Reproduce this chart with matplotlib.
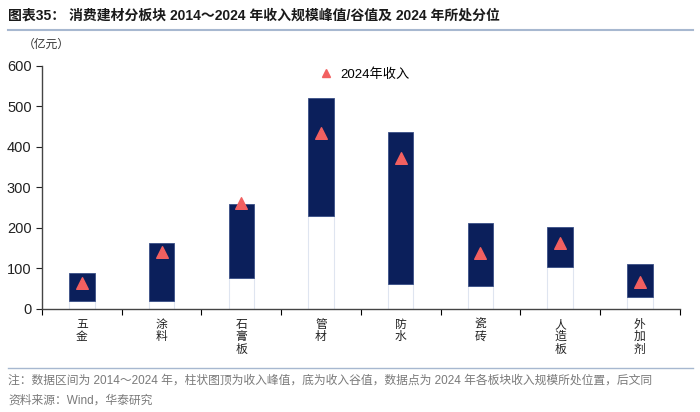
import numpy as np
import matplotlib.pyplot as plt
from matplotlib.lines import Line2D

plt.rcParams['font.family'] = ['Liberation Sans', 'Noto Sans CJK SC', 'DejaVu Sans']
plt.rcParams['axes.unicode_minus'] = False

# 数据（单位：亿元）
categories = ['五金', '涂料', '石膏板', '管材', '防水', '瓷砖', '人造板', '外加剂']
peak = [88, 162, 258, 520, 437, 212, 202, 110]
trough = [20, 20, 76, 230, 61, 58, 104, 30]
rev_2024 = [65, 141, 262, 434, 372, 138, 164, 67]

navy = '#0b1f5b'
red = '#f26060'

fig = plt.figure(figsize=(7, 4.12), dpi=100)
ax = fig.add_axes([0.06, 0.25, 0.911, 0.59])

x = np.arange(len(categories))
width = 0.32
ax.bar(x, trough, width, color='white', edgecolor='#dfe5f0', linewidth=0.8, zorder=2)
ax.bar(x, np.array(peak) - np.array(trough), width, bottom=trough,
       color=navy, edgecolor='#3a4f86', linewidth=0.6, zorder=2)
ax.scatter(x, rev_2024, marker='^', s=70, color=red, zorder=3)

ax.set_xlim(-0.5, len(categories) - 0.5)
ax.set_ylim(0, 600)
ax.set_yticks(range(0, 601, 100))
ax.tick_params(axis='y', labelsize=10.5, length=4, direction='out', colors='#222222')

# x 轴：刻度在分类边界，标签竖排
ax.set_xticks(np.arange(-0.5, len(categories), 1.0))
ax.set_xticklabels([])
ax.tick_params(axis='x', length=4, direction='out')
for i, c in enumerate(categories):
    ax.text(i, -24, '\n'.join(c), ha='center', va='top', fontsize=8.5,
            linespacing=1.05, color='#222222')

for s in ['top', 'right']:
    ax.spines[s].set_visible(False)
for s in ['left', 'bottom']:
    ax.spines[s].set_color('#444444')
    ax.spines[s].set_linewidth(1.0)

handle = Line2D([], [], marker='^', color=red, linestyle='none', markersize=6)
ax.legend([handle], ['2024年收入'], loc='upper center', bbox_to_anchor=(0.5, 1.04),
          frameon=False, fontsize=9.5, handletextpad=0.1)

# 标题与注释
fig.text(0.012, 0.963, '图表35： 消费建材分板块 2014～2024 年收入规模峰值/谷值及 2024 年所处分位',
         fontsize=10, fontweight='bold', va='center', color='#1a1a1a')
fig.add_artist(Line2D([0.012, 0.99], [0.927, 0.927], color='#a7b8d0', linewidth=1.5))
fig.text(0.032, 0.89, '（亿元）', fontsize=8.5, va='center', color='#333333')

fig.add_artist(Line2D([0.012, 0.99], [0.107, 0.107], color='#a7b8d0', linewidth=1.0))
fig.text(0.012, 0.075, '注：数据区间为 2014～2024 年，柱状图顶为收入峰值，底为收入谷值，数据点为 2024 年各板块收入规模所处位置，后文同',
         fontsize=8.5, va='center', color='#7a7a7a')
fig.text(0.012, 0.027, '资料来源：Wind，华泰研究', fontsize=8.5, va='center', color='#7a7a7a')

fig.savefig('out.png', dpi=100)
